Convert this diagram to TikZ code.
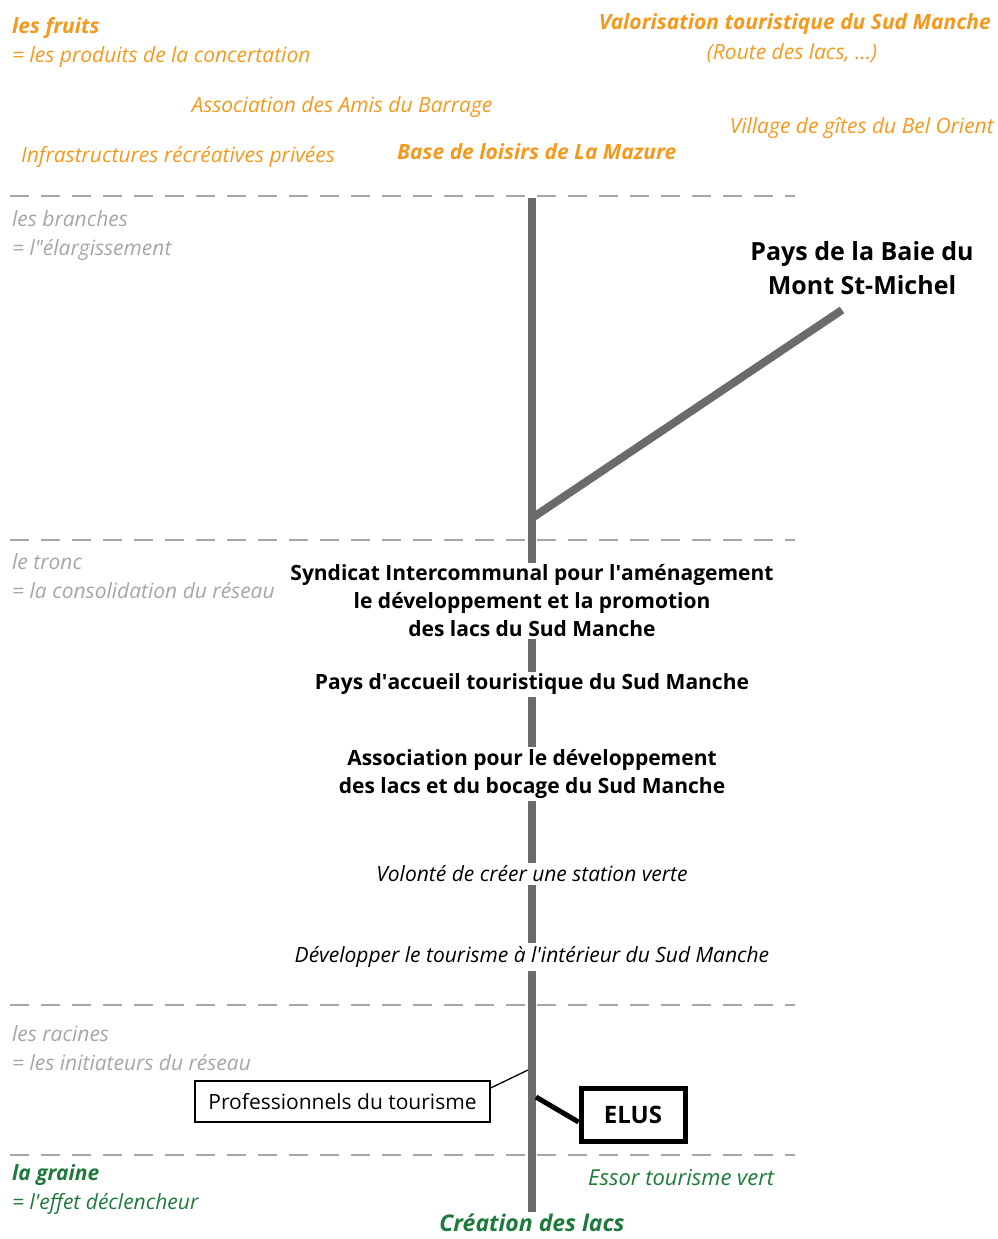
\documentclass[tikz,border=0pt]{standalone}
\usepackage{fontspec}
\setmainfont{Open Sans}
\usetikzlibrary{positioning}

\definecolor{fruitorange}{HTML}{F39A1E}
\definecolor{grainegreen}{HTML}{1D7A3A}
\definecolor{tronkgray}{HTML}{6B6B6B}
\definecolor{levelgray}{HTML}{A6A6A6}

\tikzset{
  level/.style={inner sep=0pt,anchor=west,align=left,font=\fontsize{21}{29}\selectfont\itshape},
  fruit/.style={inner sep=0pt,text=fruitorange,font=\fontsize{21}{29}\selectfont\itshape},
  acteur/.style={inner sep=2pt,fill=white,align=center,font=\fontsize{21}{28}\selectfont\bfseries},
  idee/.style={inner sep=3pt,fill=white,font=\fontsize{21}{28}\selectfont\itshape},
  separation/.style={levelgray,line width=1.3pt,dash pattern=on 19pt off 12pt},
  tronc/.style={tronkgray,line width=8pt},
}

\begin{document}
\begin{tikzpicture}[x=1pt,y=-1pt]
  \useasboundingbox (0,0) rectangle (998,1239);

  % niveaux
  \draw[separation] (10,196) -- (795,196);
  \draw[separation] (10,540) -- (795,540);
  \draw[separation] (10,1005) -- (795,1005);
  \draw[separation] (10,1155) -- (795,1155);

  % le tronc et la branche
  \coordinate (top) at (532,198);
  \coordinate (fourche) at (532,518);
  \coordinate (bout) at (842,310);
  \node[inner sep=0pt,text=grainegreen,font=\fontsize{23}{28}\selectfont\bfseries\itshape](lacs) at (532,1223){Création des lacs};
  \draw[tronc] (top) -- ([yshift=2pt]lacs.north);
  \draw[tronc] (fourche) -- (bout);

  % les fruits
  \node[level,text=fruitorange](fruits) at (12,42){\textbf{les fruits}\\= les produits de la concertation};
  \node[fruit](amis) at (342,107){Association des Amis du Barrage};
  \node[fruit,anchor=west](infra) at (21,157){Infrastructures récréatives privées};
  \node[fruit,font=\fontsize{21}{29}\selectfont\bfseries\itshape,anchor=west](mazure) at (397,152){Base de loisirs de La Mazure};
  \node[fruit,font=\fontsize{21}{29}\selectfont\bfseries\itshape,anchor=east](valo) at (991,24){Valorisation touristique du Sud Manche};
  \node[fruit](route) at (792,53){(Route des lacs, ...)};
  \node[fruit,anchor=east](village) at (994,128){Village de gîtes du Bel Orient};

  % les branches
  \node[level,text=levelgray](branches) at (12,236){les branches\\= l\textquotedbl élargissement};
  \node[inner sep=0pt,align=center,font=\fontsize{25}{34}\selectfont\bfseries](baie) at (862,268){Pays de la Baie du\\Mont St-Michel};

  % le tronc
  \node[level,text=levelgray](tronc) at (12,576){le tronc\\= la consolidation du réseau};
  \node[acteur](syndicat) at (532,601){Syndicat Intercommunal pour l\textquotesingle aménagement\\le développement et la promotion\\des lacs du Sud Manche};
  \node[acteur](accueil) at (532,684){Pays d\textquotesingle accueil touristique du Sud Manche};
  \node[acteur](asso) at (532,774){Association pour le développement\\des lacs et du bocage du Sud Manche};
  \node[idee](volonte) at (532,874){Volonté de créer une station verte};
  \node[idee](developper) at (532,957){Développer le tourisme à l\textquotesingle intérieur du Sud Manche};

  % les racines
  \node[level,text=levelgray](racines) at (12,1048){les racines\\= les initiateurs du réseau};
  \node[draw,line width=1.3pt,minimum width=295pt,minimum height=41pt,fill=white,font=\fontsize{21}{28}\selectfont](pros) at (342.5,1101.5){Professionnels du tourisme};
  \node[draw,line width=5pt,minimum width=104pt,minimum height=53pt,fill=white,font=\fontsize{24}{28}\selectfont\bfseries](elus) at (633,1114.5){ELUS};
  \coordinate (racpro) at (528,1070);
  \coordinate (racelus) at (536,1097);
  \draw[line width=1.3pt] (racpro) -- (pros.north east |- 0,1088);
  \draw[line width=5pt] (racelus) -- (elus.west |- 0,1122);

  % la graine
  \node[level,text=grainegreen](graine) at (12,1190){\textbf{la graine}\\= l\textquotesingle effet déclencheur};
  \node[inner sep=0pt,anchor=west,text=grainegreen,font=\fontsize{22}{28}\selectfont\itshape](essor) at (588,1178){Essor tourisme vert};
\end{tikzpicture}
\end{document}
